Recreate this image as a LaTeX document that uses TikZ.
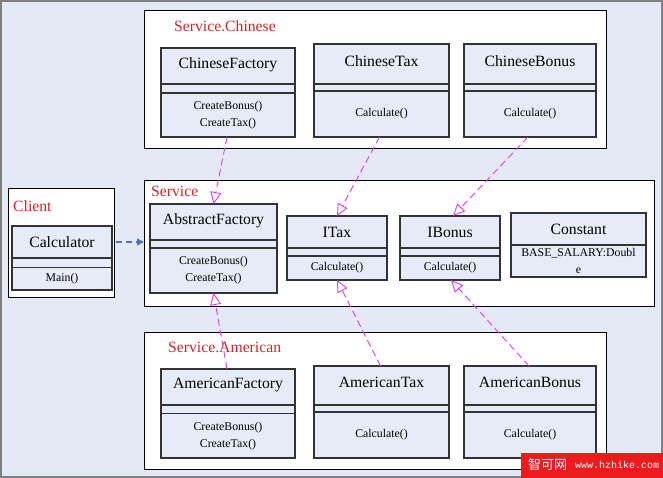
\documentclass[tikz,border=0pt]{standalone}
\usepackage{fontspec}
\setmainfont{Liberation Serif}
\newfontfamily\cjkfont{Noto Sans CJK SC}
\newfontfamily\wmmono{Liberation Mono}
\usetikzlibrary{arrows.meta,calc}
\definecolor{bgblue}{RGB}{227,234,245}
\definecolor{clsfill}{RGB}{230,236,247}
\definecolor{pkgred}{RGB}{205,40,45}
\definecolor{realmag}{RGB}{225,60,232}
\definecolor{depblue}{RGB}{80,115,185}
\definecolor{wmred}{RGB}{236,28,30}
\tikzset{
  clsbox/.style={draw=black!80, line width=1.2pt, fill=clsfill, inner sep=0pt, outer sep=0pt},
  sepline/.style={draw=black!80, line width=1.2pt},
  clstitle/.style={inner sep=0pt, font=\fontsize{15.7}{18}\selectfont},
  clsmeth/.style={inner sep=0pt, align=center, font=\fontsize{11.8}{17}\selectfont},
  pkgbox/.style={draw=black, line width=0.9pt, fill=white, inner sep=0pt, outer sep=0pt},
  pkglabel/.style={text=pkgred, anchor=west, inner sep=0pt, font=\fontsize{15.7}{18}\selectfont},
  realize/.style={draw=realmag, line width=0.9pt, dash pattern=on 7pt off 4pt,
    -{Triangle[open, length=12pt, width=11pt]}},
  depend/.style={draw=depblue, line width=1.2pt, dash pattern=on 6pt off 4pt,
    -{Triangle[length=7pt, width=7pt]}}
}
% name, x, y, w, h, sep1, sep2, title, methods
\newcommand\umlcls[9]{%
  \node[clsbox, minimum width=#4pt, minimum height=#5pt, anchor=north west] (#1) at (#2,#3) {};
  \draw[sepline] ($(#1.north west)+(0,#6)$) -- ($(#1.north east)+(0,#6)$);
  \draw[sepline] ($(#1.north west)+(0,#7)$) -- ($(#1.north east)+(0,#7)$);
  \node[clstitle] (#1-t) at ($(#1.north)+(0,0.1*#6+12.8)$) {#8};
  \node[clsmeth] (#1-m) at ($(#1.north)+(0,#7/2+#5/2)$) {#9};
}
\begin{document}
\begin{tikzpicture}[x=1pt,y=-1pt]
\useasboundingbox (0,0) rectangle (663,478);
\fill[bgblue] (0,0) rectangle (663,478);
\draw[gray, line width=1.6pt] (0.8,0.8) rectangle (662.2,477.2);

% packages
\node[pkgbox, minimum width=462pt, minimum height=138pt, anchor=north west] (pch) at (144,10) {};
\node[pkgbox, minimum width=510pt, minimum height=126pt, anchor=north west] (psvc) at (144,180) {};
\node[pkgbox, minimum width=106pt, minimum height=109pt, anchor=north west] (pcl) at (8,188) {};
\node[pkgbox, minimum width=462pt, minimum height=137pt, anchor=north west] (pam) at (144,332) {};

\node[pkglabel] (lch) at (174,26) {Service.Chinese};
\node[pkglabel] (lsvc) at (151,191) {Service};
\node[pkglabel] (lcl) at (13,206) {Client};
\node[pkglabel] (lam) at (168,347) {Service.American};

% classes
\umlcls{cf}{161}{48}{134}{89}{36}{45}{ChineseFactory}{CreateBonus()\\CreateTax()}
\umlcls{ct}{314}{44}{135}{93}{40}{47}{ChineseTax}{Calculate()}
\umlcls{cb}{464}{44}{132}{93}{40}{47}{ChineseBonus}{Calculate()}

\umlcls{calc}{12}{226}{100}{64}{32}{41.5}{Calculator}{Main()}

\umlcls{af}{150}{204}{127}{89}{36}{44}{AbstractFactory}{CreateBonus()\\CreateTax()}
\umlcls{itax}{287}{216}{100}{64}{32}{40}{ITax}{Calculate()}
\umlcls{ibonus}{400}{216}{100}{64}{32}{40}{IBonus}{Calculate()}
\umlcls{const}{511}{213}{135}{64}{32}{32}{Constant}{BASE\_SALARY:Doubl\\e}

\umlcls{amf}{161}{369}{134}{89}{36}{44.5}{AmericanFactory}{CreateBonus()\\CreateTax()}
\umlcls{amt}{314}{366}{135}{92}{39}{46}{AmericanTax}{Calculate()}
\umlcls{amb}{464}{366}{132}{92}{39}{46}{AmericanBonus}{Calculate()}

% connectors
\draw[realize] ($(cf.south)+(-1,0)$) -- (af.north);
\draw[realize] ($(ct.south)+(-2,0)$) -- (itax.north);
\draw[realize] ($(cb.south)+(-2,0)$) -- ($(ibonus.north)+(3,0)$);
\draw[realize] ($(amf.north)+(-1,0)$) -- (af.south);
\draw[realize] ($(amt.north)+(-1,0)$) -- (itax.south);
\draw[realize] ($(amb.north)+(-1,0)$) -- ($(ibonus.south)+(1,0)$);
\draw[depend] ($(pcl.east |- calc-t)+(2,0)$) -- (psvc.west |- calc-t);

% watermark
\fill[wmred] (521,453) rectangle (663,478);
\node[text=white, inner sep=0pt, anchor=west, font=\cjkfont\fontsize{13}{14}\selectfont] (wm1) at (528,465) {智可网};
\node[text=white, inner sep=0pt, anchor=west, font=\wmmono\fontsize{10}{12}\selectfont] (wm2) at (575,465) {www.hzhike.com};
\end{tikzpicture}
\end{document}
